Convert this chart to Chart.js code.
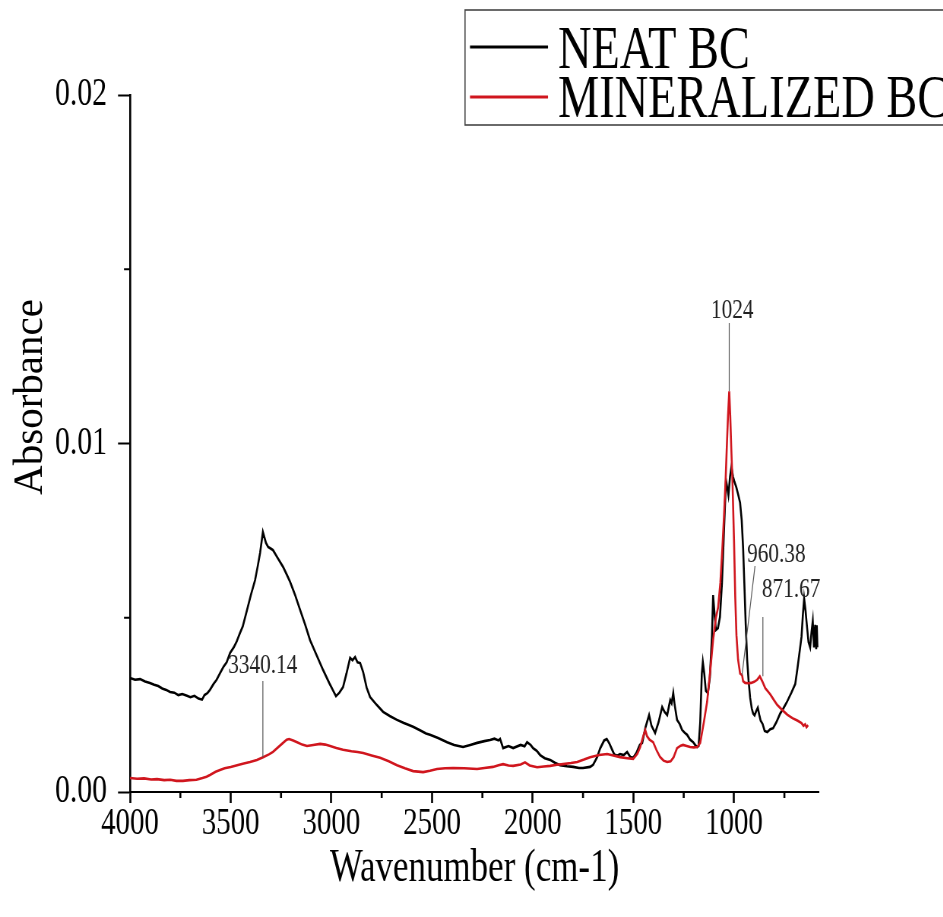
<!DOCTYPE html>
<html>
<head>
<meta charset="utf-8">
<script src="https://cdn.jsdelivr.net/npm/chart.js@4.4.0/dist/chart.umd.min.js"></script>
<style>
  html, body { margin: 0; padding: 0; background: #fff; overflow: hidden; }
  #wrap { width: 943px; height: 917px; overflow: hidden; position: relative; background: #fff; }
  #c { position: absolute; left: 0; top: 0; transform-origin: 0 0; }
</style>
</head>
<body>
<div id="wrap"><canvas id="c"></canvas></div>
<script>
// FTIR spectra: neat bacterial cellulose vs. mineralized bacterial cellulose
const neatWavenumber = [4000,3975,3950,3925,3901,3880,3860,3840,3820,3801,3780,3760,3740,3717,3700,3680,3660,3642,3630,3615,3603,3585,3570,3553,3535,3520,3503,3485,3470,3454,3440,3419,3400,3379,3365,3354,3340,3325,3314,3300,3290,3265,3240,3220,3205,3180,3155,3130,3106,3075,3041,3010,2977,2960,2942,2925,2907,2895,2882,2870,2857,2850,2842,2825,2808,2775,2743,2710,2674,2640,2615,2594,2560,2530,2510,2470,2425,2390,2346,2310,2276,2240,2212,2190,2170,2162,2147,2120,2097,2060,2040,2028,2010,1998,1980,1963,1940,1913,1890,1864,1830,1799,1770,1750,1715,1700,1680,1665,1645,1632,1620,1606,1595,1580,1566,1548,1531,1515,1501,1485,1468,1456,1440,1422,1410,1392,1375,1357,1345,1332,1322,1317,1310,1302,1295,1283,1270,1258,1245,1233,1218,1203,1193,1183,1176,1168,1160,1155,1148,1140,1130,1120,1110,1104,1098,1090,1080,1070,1060,1050,1040,1033,1028,1020,1013,1005,998,989,980,970,962,955,949,942,935,928,920,912,905,898,890,882,875,868,858,848,835,820,806,790,771,755,736,715,696,685,675,665,658,652,645,637,630,622,615,609,603,597,592,589,586];
const neatAbsorbance = [0.00327,0.00322,0.00324,0.00317,0.00313,0.00308,0.00304,0.00297,0.00293,0.00287,0.00285,0.00278,0.00281,0.00276,0.00272,0.00276,0.00268,0.00265,0.00278,0.00284,0.00293,0.00310,0.00322,0.00341,0.00360,0.00372,0.00399,0.00415,0.00432,0.00456,0.00475,0.00522,0.00565,0.00608,0.00650,0.00686,0.00746,0.00715,0.00703,0.00698,0.00694,0.00670,0.00646,0.00622,0.00603,0.00565,0.00522,0.00480,0.00436,0.00395,0.00350,0.00312,0.00275,0.00285,0.00301,0.00340,0.00385,0.00378,0.00387,0.00372,0.00370,0.00358,0.00344,0.00300,0.00273,0.00250,0.00230,0.00218,0.00207,0.00198,0.00192,0.00187,0.00177,0.00168,0.00164,0.00155,0.00143,0.00135,0.00129,0.00135,0.00141,0.00146,0.00149,0.00153,0.00148,0.00152,0.00126,0.00132,0.00126,0.00135,0.00131,0.00143,0.00135,0.00126,0.00118,0.00106,0.00097,0.00092,0.00084,0.00077,0.00074,0.00072,0.00069,0.00069,0.00072,0.00078,0.00100,0.00125,0.00148,0.00152,0.00140,0.00122,0.00108,0.00104,0.00109,0.00106,0.00115,0.00100,0.00098,0.00112,0.00135,0.00141,0.00185,0.00221,0.00190,0.00169,0.00200,0.00244,0.00230,0.00221,0.00250,0.00264,0.00255,0.00284,0.00250,0.00207,0.00195,0.00178,0.00170,0.00164,0.00150,0.00143,0.00135,0.00129,0.00132,0.00200,0.00340,0.00373,0.00340,0.00290,0.00284,0.00330,0.00445,0.00565,0.00520,0.00465,0.00470,0.00502,0.00600,0.00750,0.00895,0.00870,0.00852,0.00905,0.00933,0.00905,0.00890,0.00875,0.00855,0.00830,0.00780,0.00700,0.00600,0.00480,0.00380,0.00320,0.00270,0.00240,0.00225,0.00220,0.00232,0.00242,0.00222,0.00205,0.00195,0.00175,0.00172,0.00180,0.00183,0.00200,0.00225,0.00240,0.00260,0.00285,0.00310,0.00355,0.00400,0.00445,0.00510,0.00555,0.00520,0.00470,0.00430,0.00415,0.00460,0.00490,0.00415,0.00480,0.00410,0.00478,0.00415];

const mineralWavenumber = [4000,3965,3930,3895,3866,3830,3800,3770,3737,3705,3670,3640,3620,3603,3575,3553,3530,3500,3468,3435,3404,3370,3339,3310,3290,3265,3240,3222,3210,3190,3170,3145,3121,3090,3056,3030,3006,2975,2942,2900,2870,2842,2800,2758,2715,2674,2635,2594,2544,2510,2475,2435,2395,2340,2276,2240,2197,2170,2147,2120,2097,2060,2038,2015,1978,1945,1913,1880,1849,1810,1779,1745,1715,1670,1630,1600,1566,1530,1501,1480,1466,1450,1441,1432,1420,1402,1385,1367,1350,1332,1315,1300,1283,1265,1253,1235,1218,1200,1183,1168,1150,1134,1118,1104,1090,1079,1068,1058,1050,1042,1036,1030,1024,1019,1014,1008,1000,994,988,980,970,960,955,945,930,915,900,885,872,860,845,820,800,786,760,736,710,686,665,655,647,640,632];
const mineralAbsorbance = [0.00040,0.00038,0.00039,0.00036,0.00037,0.00034,0.00035,0.00032,0.00032,0.00034,0.00035,0.00040,0.00044,0.00049,0.00058,0.00063,0.00068,0.00072,0.00077,0.00082,0.00086,0.00092,0.00100,0.00108,0.00115,0.00128,0.00141,0.00150,0.00152,0.00148,0.00143,0.00136,0.00132,0.00135,0.00138,0.00136,0.00132,0.00126,0.00121,0.00117,0.00115,0.00112,0.00105,0.00098,0.00088,0.00077,0.00068,0.00060,0.00057,0.00061,0.00066,0.00068,0.00069,0.00068,0.00066,0.00069,0.00072,0.00077,0.00080,0.00076,0.00075,0.00079,0.00085,0.00076,0.00071,0.00073,0.00075,0.00078,0.00080,0.00083,0.00086,0.00093,0.00100,0.00106,0.00109,0.00105,0.00100,0.00097,0.00095,0.00110,0.00129,0.00162,0.00178,0.00160,0.00150,0.00143,0.00120,0.00100,0.00090,0.00086,0.00088,0.00100,0.00126,0.00133,0.00135,0.00132,0.00129,0.00128,0.00129,0.00141,0.00200,0.00258,0.00350,0.00436,0.00500,0.00530,0.00600,0.00700,0.00790,0.00895,0.00990,0.01080,0.01150,0.01080,0.00990,0.00895,0.00720,0.00560,0.00450,0.00380,0.00340,0.00335,0.00318,0.00313,0.00312,0.00313,0.00316,0.00322,0.00332,0.00318,0.00298,0.00280,0.00262,0.00250,0.00235,0.00222,0.00212,0.00205,0.00198,0.00190,0.00194,0.00186,0.00192];

// axis ticks
const xMajorTicks = [4000, 3500, 3000, 2500, 2000, 1500, 1000];
const xMinorTicks = [3750, 3250, 2750, 2250, 1750, 1250, 750];
const yMajorTicks = [0, 0.01, 0.02];
const yMinorTicks = [0.005, 0.015];

// peak annotations: label text, band position (cm-1), absorbance where the leader ends
const peakLabels = ['3340.14', '1024', '960.38', '871.67'];
const peakWavenumbers = [3340.14, 1024, 960.38, 871.67];
const peakTipAbsorbance = [0.00100, 0.01150, 0.00335, 0.00332];

const seriesNames = ['NEAT BC', 'MINERALIZED BC'];
const seriesColors = ['#000000', '#d0161e'];

// the figure is drawn on a wider canvas and narrowed horizontally
const SQUEEZE = 0.76;
const W = 943, H = 917;
const CW = Math.round(W / SQUEEZE);
const sx = v => v / SQUEEZE;
const FONT = "'Liberation Serif', 'Times New Roman', serif";

const canvas = document.getElementById('c');
canvas.width = CW;
canvas.height = H;
canvas.style.transform = 'scaleX(' + SQUEEZE + ')';

const toPoints = (xs, ys) => xs.map((w, i) => ({ x: w, y: ys[i] }));

const extraMarks = {
  id: 'extraMarks',
  afterDraw(chart) {
    const { ctx } = chart;
    const xs = chart.scales.x, ys = chart.scales.y;
    ctx.save();

    // minor ticks
    ctx.strokeStyle = '#000';
    ctx.lineWidth = sx(2);
    xMinorTicks.forEach(v => {
      const px = xs.getPixelForValue(v);
      ctx.beginPath(); ctx.moveTo(px, ys.bottom); ctx.lineTo(px, ys.bottom + 6); ctx.stroke();
    });
    ctx.lineWidth = 2;
    yMinorTicks.forEach(v => {
      const py = ys.getPixelForValue(v);
      ctx.beginPath(); ctx.moveTo(xs.left, py); ctx.lineTo(xs.left - sx(6), py); ctx.stroke();
    });

    // y axis title (kept at natural proportions)
    ctx.save();
    ctx.translate(sx(31), 397);
    ctx.scale(1 / SQUEEZE, 1);
    ctx.rotate(-Math.PI / 2);
    ctx.font = '41px ' + FONT;
    ctx.fillStyle = '#000';
    ctx.textAlign = 'center';
    ctx.textBaseline = 'middle';
    ctx.fillText('Absorbance', 0, 0);
    ctx.restore();

    // peak annotations
    ctx.font = '28px ' + FONT;
    ctx.fillStyle = '#222';
    ctx.strokeStyle = '#555';
    ctx.lineWidth = 1.2;
    ctx.textBaseline = 'alphabetic';
    const px = peakWavenumbers.map(v => xs.getPixelForValue(v));
    const tip = peakTipAbsorbance.map(v => ys.getPixelForValue(v));

    ctx.textAlign = 'center';
    ctx.fillText(peakLabels[0], px[0], 673);
    ctx.beginPath(); ctx.moveTo(px[0], 681); ctx.lineTo(px[0], tip[0]); ctx.stroke();

    ctx.fillText(peakLabels[1], px[1] + sx(3), 318);
    ctx.beginPath(); ctx.moveTo(px[1], 323); ctx.lineTo(px[1], tip[1]); ctx.stroke();

    ctx.textAlign = 'left';
    ctx.fillText(peakLabels[2], px[2] + sx(5), 562);
    ctx.beginPath(); ctx.moveTo(px[2] + sx(13), 566); ctx.lineTo(px[2], tip[2]); ctx.stroke();

    ctx.fillText(peakLabels[3], px[3] + sx(2), 597);
    ctx.beginPath(); ctx.moveTo(px[3] + sx(3), 617); ctx.lineTo(px[3] + sx(3), tip[3]); ctx.stroke();

    // legend box
    ctx.strokeStyle = '#444';
    ctx.lineWidth = sx(1.2);
    ctx.strokeRect(sx(465), 10, CW, 115);
    ctx.font = '61px ' + FONT;
    ctx.fillStyle = '#000';
    ctx.textAlign = 'left';
    const rows = [47, 97];
    const bases = [68, 117];
    seriesNames.forEach((name, i) => {
      ctx.strokeStyle = seriesColors[i];
      ctx.lineWidth = 3;
      ctx.beginPath(); ctx.moveTo(sx(470), rows[i]); ctx.lineTo(sx(548), rows[i]); ctx.stroke();
      ctx.fillText(name, sx(558), bases[i]);
    });
    ctx.restore();
  }
};

new Chart(canvas, {
  type: 'line',
  data: {
    datasets: [
      { label: seriesNames[0], data: toPoints(neatWavenumber, neatAbsorbance), borderColor: seriesColors[0], borderWidth: 2.6, pointRadius: 0, tension: 0, order: 2 },
      { label: seriesNames[1], data: toPoints(mineralWavenumber, mineralAbsorbance), borderColor: seriesColors[1], borderWidth: 2.6, pointRadius: 0, tension: 0, order: 1 }
    ]
  },
  options: {
    responsive: false,
    animation: false,
    devicePixelRatio: 1,
    layout: { padding: { left: 0, right: CW - sx(819), top: 95, bottom: 0 } },
    plugins: { legend: { display: false }, tooltip: { enabled: false } },
    scales: {
      x: {
        type: 'linear', reverse: true, min: 578, max: 4000,
        afterBuildTicks: s => { s.ticks = xMajorTicks.map(v => ({ value: v })); },
        afterFit: s => { s.height = H - 792; },
        grid: { display: true, drawOnChartArea: false, drawTicks: true, tickLength: 11, tickColor: '#000', tickWidth: sx(2) },
        border: { display: true, color: '#000', width: 2 },
        ticks: { color: '#000', font: { family: FONT, size: 38 }, padding: -2, maxRotation: 0, autoSkip: false, callback: v => String(v) },
        title: { display: true, text: 'Wavenumber (cm-1)', color: '#000', font: { family: FONT, size: 46, lineHeight: 1 }, padding: { top: 0, bottom: 25 } }
      },
      y: {
        type: 'linear', min: 0, max: 0.02,
        afterBuildTicks: s => { s.ticks = yMajorTicks.map(v => ({ value: v })); },
        afterFit: s => { s.width = sx(130); },
        grid: { display: true, drawOnChartArea: false, drawTicks: true, tickLength: sx(12), tickColor: '#000', tickWidth: 2 },
        border: { display: true, color: '#000', width: sx(2) },
        ticks: { color: '#000', font: { family: FONT, size: 39 }, padding: sx(11), callback: v => Number(v).toFixed(2) }
      }
    }
  },
  plugins: [extraMarks]
});
</script>
</body>
</html>
